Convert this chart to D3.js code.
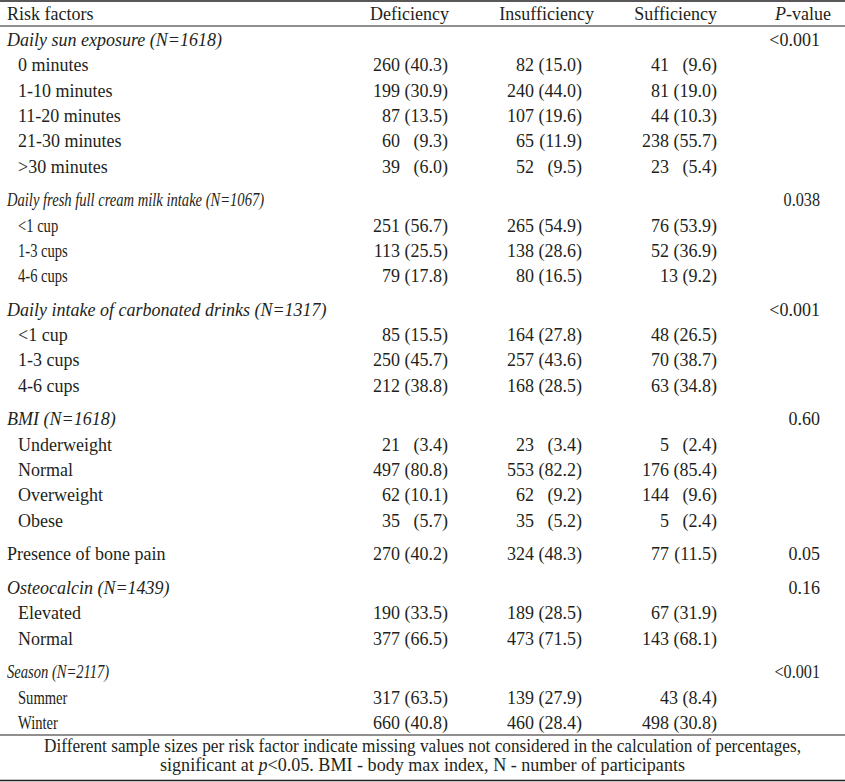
<!DOCTYPE html>
<html>
<head>
<meta charset="utf-8">
<script src="https://cdn.jsdelivr.net/npm/d3@7/dist/d3.min.js"></script>
<style>
  body { margin: 0; background: #fff; }
  svg text { font-family: "Liberation Serif", "DejaVu Serif", serif; fill: #231f20; }
</style>
</head>
<body>
<svg id="chart" width="845" height="782"></svg>
<script>
// table data
const headers = ['Risk factors', 'Deficiency', 'Insufficiency', 'Sufficiency', 'P-value'];
const sections = [
  'Daily sun exposure (N=1618)',
  'Daily fresh full cream milk intake (N=1067)',
  'Daily intake of carbonated drinks (N=1317)',
  'BMI (N=1618)',
  'Presence of bone pain',
  'Osteocalcin (N=1439)',
  'Season (N=2117)'
];
const sectionP = ['<0.001', '0.038', '<0.001', '0.60', '0.05', '0.16', '<0.001'];
const condensed = [false, true, false, false, false, false, true];
const items = [
  ['0 minutes', '1-10 minutes', '11-20 minutes', '21-30 minutes', '>30 minutes'],
  ['<1 cup', '1-3 cups', '4-6 cups'],
  ['<1 cup', '1-3 cups', '4-6 cups'],
  ['Underweight', 'Normal', 'Overweight', 'Obese'],
  [],
  ['Elevated', 'Normal'],
  ['Summer', 'Winter']
];
// bone pain has its values on the section row itself
const deficiencyN = [[260, 199, 87, 60, 39], [251, 113, 79], [85, 250, 212], [21, 497, 62, 35], [270], [190, 377], [317, 660]];
const deficiencyPct = [[40.3, 30.9, 13.5, 9.3, 6.0], [56.7, 25.5, 17.8], [15.5, 45.7, 38.8], [3.4, 80.8, 10.1, 5.7], [40.2], [33.5, 66.5], [63.5, 40.8]];
const insufficiencyN = [[82, 240, 107, 65, 52], [265, 138, 80], [164, 257, 168], [23, 553, 62, 35], [324], [189, 473], [139, 460]];
const insufficiencyPct = [[15.0, 44.0, 19.6, 11.9, 9.5], [54.9, 28.6, 16.5], [27.8, 43.6, 28.5], [3.4, 82.2, 9.2, 5.2], [48.3], [28.5, 71.5], [27.9, 28.4]];
const sufficiencyN = [[41, 81, 44, 238, 23], [76, 52, 13], [48, 70, 63], [5, 176, 144, 5], [77], [67, 143], [43, 498]];
const sufficiencyPct = [[9.6, 19.0, 10.3, 55.7, 5.4], [53.9, 36.9, 9.2], [26.5, 38.7, 34.8], [2.4, 85.4, 9.6, 2.4], [11.5], [31.9, 68.1], [8.4, 30.8]];
const footnote = [
  'Different sample sizes per risk factor indicate missing values not considered in the calculation of percentages,',
  'significant at |p|<0.05. BMI - body max index, N - number of participants'
];

const svg = d3.select('#chart');
const width = 845;
const fontSize = 18;
const squeeze = 0.81;

// build flat row list
const rows = [];
sections.forEach((s, i) => {
  const inline = items[i].length === 0;
  rows.push({label: s, kind: inline ? 'plain' : 'section', sec: i, p: sectionP[i], idx: inline ? 0 : -1, gapBefore: i > 0});
  items[i].forEach((it, j) => rows.push({label: it, kind: 'item', sec: i, idx: j, gapBefore: false}));
});
let gaps = 0;
rows.forEach((r, i) => { if (r.gapBefore) gaps++; r.gaps = gaps; r.i = i; });

const pitch = 25.3;
const gap = 8.4;
const y = d3.scaleLinear().domain([0, 1]).range([46, 46 + pitch]);
const rowY = r => y(r.i) + r.gaps * gap;

// columns: right edge of the percentage, number sits one gap to its left
const colPct = d3.scaleOrdinal().domain(['def', 'ins', 'suf']).range([448, 582, 717]);
const numGap = 48;
const series = [
  {key: 'def', n: deficiencyN, pct: deficiencyPct},
  {key: 'ins', n: insufficiencyN, pct: insufficiencyPct},
  {key: 'suf', n: sufficiencyN, pct: sufficiencyPct}
];

function place (sel, x, yy, sq) {
  sel.attr('transform', `translate(${x},${yy}) scale(${sq},1)`);
}

// rules
const rules = [
  {y: 1, w: 1.3},
  {y: 26, w: 1},
  {y: 735, w: 1},
  {y: 780.5, w: 1.3}
];
svg.selectAll('line.rule').data(rules).join('line')
  .attr('class', 'rule')
  .attr('x1', 0).attr('x2', width)
  .attr('y1', d => d.y).attr('y2', d => d.y)
  .attr('stroke', '#231f20').attr('stroke-width', d => d.w);

// header
const headX = [7, 449, 594, 717, 831];
headers.forEach((h, i) => {
  const t = svg.append('text').attr('x', headX[i]).attr('y', 20).attr('font-size', fontSize)
    .attr('text-anchor', i === 0 ? 'start' : 'end');
  if (h === 'P-value') {
    t.append('tspan').attr('font-style', 'italic').text('P');
    t.append('tspan').text('-value');
  } else {
    t.text(h);
  }
});

// row labels
svg.selectAll('text.label').data(rows).join('text')
  .attr('class', 'label')
  .attr('font-size', fontSize)
  .attr('font-style', d => d.kind === 'section' ? 'italic' : 'normal')
  .each(function (d) {
    place(d3.select(this), d.kind === 'item' ? 18 : 7, rowY(d), condensed[d.sec] ? squeeze : 1);
  })
  .text(d => d.label);

// p-values
svg.selectAll('text.pval').data(rows.filter(r => r.p)).join('text')
  .attr('class', 'pval')
  .attr('font-size', fontSize)
  .attr('text-anchor', 'end')
  .each(function (d) { place(d3.select(this), 820, rowY(d), condensed[d.sec] ? 0.9 : 1); })
  .text(d => d.p);

// values
const valueRows = rows.filter(r => r.idx >= 0);
series.forEach(s => {
  valueRows.forEach(r => {
    const n = s.n[r.sec][r.idx];
    const pct = '(' + s.pct[r.sec][r.idx].toFixed(1) + ')';
    const yy = rowY(r);
    if (condensed[r.sec]) {
      svg.append('text').attr('font-size', fontSize).attr('text-anchor', 'end')
        .attr('x', colPct(s.key)).attr('y', yy).text(n + ' ' + pct);
    } else {
      svg.append('text').attr('font-size', fontSize).attr('text-anchor', 'end')
        .attr('x', colPct(s.key) - numGap).attr('y', yy).text(n);
      svg.append('text').attr('font-size', fontSize).attr('text-anchor', 'end')
        .attr('x', colPct(s.key)).attr('y', yy).text(pct);
    }
  });
});

// footnote
const footX = [44, 160];
const footW = [757, 525];
footnote.forEach((line, i) => {
  const t = svg.append('text').attr('font-size', fontSize)
    .attr('x', footX[i]).attr('y', 752 + i * 18.5)
    .attr('textLength', footW[i]).attr('lengthAdjust', 'spacingAndGlyphs');
  line.split('|').forEach((part, k) => {
    t.append('tspan').attr('font-style', k === 1 ? 'italic' : 'normal').text(part);
  });
});
</script>
</body>
</html>
